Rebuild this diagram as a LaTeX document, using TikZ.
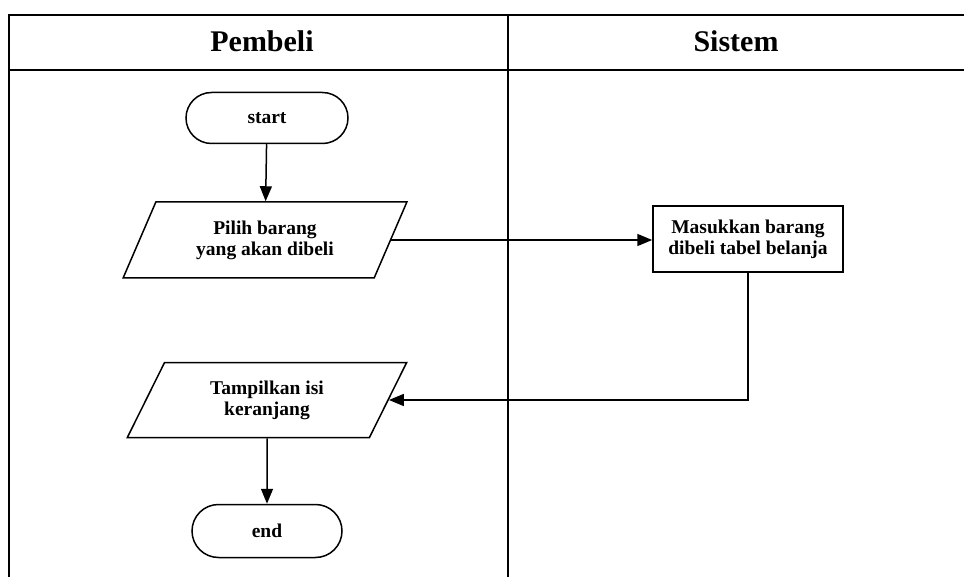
\documentclass[tikz,border=0pt]{standalone}
\usepackage{fontspec}
\setmainfont{Liberation Serif}
\usetikzlibrary{shapes.geometric,shapes.misc,arrows.meta}
\begin{document}
\begin{tikzpicture}[x=1pt,y=-1pt,
  lane/.style={line width=2.4pt},
  shapeline/.style={draw,line width=1.5pt,align=center,font=\fontsize{19.5}{21}\selectfont\bfseries},
  terminal/.style={shapeline,rounded rectangle,inner sep=0pt},
  io/.style={shapeline,trapezium,trapezium left angle=62,trapezium right angle=118,
    trapezium stretches=true,inner sep=0pt},
  process/.style={shapeline,rectangle,inner sep=0pt},
  flow/.style={line width=1.5pt,-{Triangle[length=15pt,width=12pt]}},
  header/.style={font=\fontsize{30}{32}\selectfont\bfseries}]
\useasboundingbox (0,0) rectangle (964,577);
% swimlane frame
\draw[lane] (9,577) -- (9,15) -- (964,15);
\draw[lane] (9,70) -- (964,70);
\draw[lane] (508,15) -- (508,577);
\node[header] (h1) at (262,41) {Pembeli};
\node[header] (h2) at (736,41) {Sistem};
% flow nodes
\node[terminal,minimum width=162pt,minimum height=51pt] (start) at (267,118) {start};
\node[io,minimum width=284pt,minimum height=76pt] (pilih) at (265,240) {Pilih barang\\yang akan dibeli};
\node[process,minimum width=190pt,minimum height=66pt] (masuk) at (748,239) {Masukkan barang\\dibeli tabel belanja};
\node[io,minimum width=280pt,minimum height=75pt] (tampil) at (267,400) {Tampilkan isi\\keranjang};
\node[terminal,minimum width=150pt,minimum height=53pt] (end) at (267,531) {end};
% connectors
\draw[flow] (start) -- (pilih);
\draw[flow] (pilih.east) -- (pilih.east -| masuk.west);
\draw[flow] (masuk.south) |- (tampil.east);
\draw[flow] (tampil) -- (end);
\end{tikzpicture}
\end{document}
